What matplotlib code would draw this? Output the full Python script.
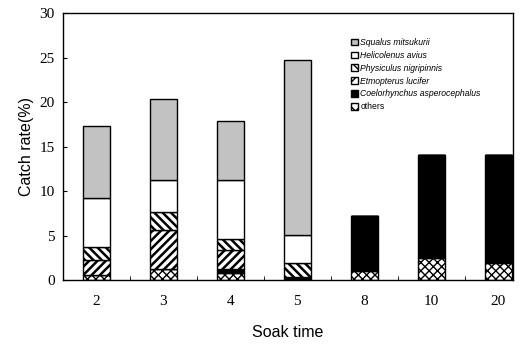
import matplotlib
matplotlib.use("Agg")
import matplotlib.pyplot as plt
import numpy as np
from matplotlib.patches import Patch

categories = ["2", "3", "4", "5", "8", "10", "20"]
# stacked bottom -> top
others        = [0.6, 1.3, 0.75, 0.0, 1.05, 2.5, 1.95]
coelorhynchus = [0.0, 0.0, 0.55, 0.3, 6.2, 11.6, 12.1]
etmopterus    = [1.7, 4.3, 2.1, 0.0, 0.0, 0.0, 0.0]
physiculus    = [1.4, 2.0, 1.2, 1.6, 0.0, 0.0, 0.0]
helicolenus   = [5.5, 3.7, 6.7, 3.2, 0.0, 0.0, 0.0]
squalus       = [8.1, 9.0, 6.6, 19.6, 0.0, 0.0, 0.0]

species_names = ["Squalus mitsukurii", "Helicolenus avius", "Physiculus nigripinnis",
                 "Etmopterus lucifer", "Coelorhynchus asperocephalus", "others"]

fig = plt.figure(figsize=(5.25, 3.45), dpi=100)
ax = fig.add_axes([0.12, 0.188, 0.857, 0.774])

x = np.arange(len(categories))
w = 0.4
series = [
    (others, dict(facecolor="white", hatch="xxxx"), 1.0),
    (coelorhynchus, dict(facecolor="black"), 1.0),
    (etmopterus, dict(facecolor="white", hatch="////"), 1.8),
    (physiculus, dict(facecolor="white", hatch="\\\\\\\\"), 1.8),
    (helicolenus, dict(facecolor="white"), 1.0),
    (squalus, dict(facecolor="#c2c2c2"), 1.0),
]
bottom = np.zeros(len(categories))
for vals, style, hlw in series:
    v = np.array(vals)
    with plt.rc_context({"hatch.linewidth": hlw}):
        ax.bar(x, v, w, bottom=bottom, edgecolor="black", linewidth=1.0, **style)
    bottom += v

ax.set_xlim(-0.5, 6.22)
ax.set_ylim(0, 30)
ax.set_yticks(np.arange(0, 31, 5))
ax.set_xticks(x)
ax.set_xticklabels(categories)
ax.set_xticks(np.arange(0.5, 6, 1), minor=True)
ax.tick_params(axis="x", which="major", length=0, pad=11)
ax.tick_params(axis="x", which="minor", direction="in", length=3)
ax.tick_params(axis="y", direction="in", length=3, pad=6)
for lab in ax.get_xticklabels() + ax.get_yticklabels():
    lab.set_fontfamily("Liberation Serif")
    lab.set_fontsize(11)
for s in ax.spines.values():
    s.set_linewidth(1.0)

ax.set_ylabel("Catch rate(%)", fontfamily="Liberation Sans", fontsize=11.5, labelpad=4)
ax.set_xlabel("Soak time", fontfamily="Liberation Sans", fontsize=11.5, labelpad=12)

with plt.rc_context({"hatch.linewidth": 1.0}):
    handles = [
        Patch(facecolor="#c2c2c2", edgecolor="black"),
        Patch(facecolor="white", edgecolor="black"),
        Patch(facecolor="white", edgecolor="black", hatch="\\\\\\"),
        Patch(facecolor="white", edgecolor="black", hatch="///"),
        Patch(facecolor="black", edgecolor="black"),
        Patch(facecolor="white", edgecolor="black", hatch="xxx"),
    ]
leg = fig.legend(handles, species_names, loc="upper left",
                 bbox_to_anchor=(0.662, 0.9), frameon=False,
                 prop={"family": "Liberation Sans", "style": "italic", "size": 6.2},
                 handlelength=0.8, handleheight=0.8, handletextpad=0.3,
                 labelspacing=0.45, borderaxespad=0)
leg.get_texts()[-1].set_fontstyle("normal")

fig.savefig("out.png", dpi=100)
